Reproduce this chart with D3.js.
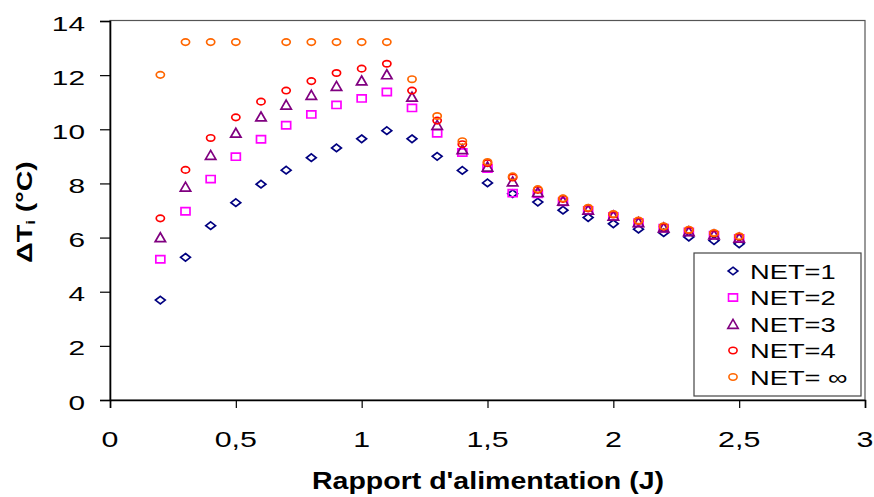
<!DOCTYPE html>
<html>
<head>
<meta charset="utf-8">
<script src="https://cdn.jsdelivr.net/npm/d3@7"></script>
<style>
  html, body { margin: 0; padding: 0; background: #fff; }
  svg { display: block; }
  text { font-family: "Liberation Sans", Arial, sans-serif; fill: #000; }
</style>
</head>
<body>
<svg id="chart" width="874" height="497"></svg>
<script>
// ---- data ----
const xValues = [0.2,0.3,0.4,0.5,0.6,0.7,0.8,0.9,1.0,1.1,1.2,1.3,1.4,1.5,1.6,1.7,1.8,1.9,2.0,2.1,2.2,2.3,2.4,2.5];
const net1 = [3.69,5.27,6.44,7.29,7.97,8.49,8.95,9.31,9.65,9.95,9.65,9.0,8.48,8.02,7.62,7.31,7.01,6.74,6.51,6.31,6.18,6.02,5.89,5.77];
const net2 = [5.20,6.97,8.16,8.99,9.63,10.15,10.55,10.90,11.14,11.38,10.79,9.85,9.14,8.55,7.64,7.62,7.32,7.0,6.78,6.55,6.35,6.21,6.09,5.97];
const net3 = [6.01,7.88,9.05,9.87,10.47,10.91,11.27,11.60,11.80,12.03,11.20,10.16,9.26,8.62,8.07,7.68,7.36,7.03,6.81,6.57,6.37,6.23,6.11,5.99];
const net4 = [6.71,8.50,9.68,10.44,11.02,11.43,11.78,12.08,12.24,12.42,11.43,10.32,9.45,8.75,8.22,7.76,7.43,7.08,6.85,6.61,6.40,6.27,6.15,6.03];
const netInf = [12.01,13.22,13.22,13.22,null,13.22,13.22,13.22,13.22,13.22,11.85,10.49,9.56,8.79,8.26,7.79,7.45,7.10,6.87,6.63,6.42,6.29,6.17,6.05];
const seriesNames = ["NET=1","NET=2","NET=3","NET=4","NET= \u221E"];
const seriesColors = ["#000080","#FF00FF","#800080","#FF0000","#FF6600"];
const seriesShapes = ["diamond","square","triangle","circle","circle"];
const xTicks = [0,0.5,1,1.5,2,2.5,3];
const xTickLabels = ["0","0,5","1","1,5","2","2,5","3"];
const yTicks = [0,2,4,6,8,10,12,14];
const xTitle = "Rapport d'alimentation (J)";

const allSeries = [net1, net2, net3, net4, netInf];

// ---- layout ----
const svg = d3.select("#chart");
const x = d3.scaleLinear().domain([0,3]).range([110,865]);
const y = d3.scaleLinear().domain([0,14]).range([400,21]);

// plot frame (top/right)
svg.append("rect").attr("x",110).attr("y",20.5).attr("width",755).attr("height",379.5)
  .attr("fill","none").attr("stroke","#555").attr("stroke-width",1.2);

// axes
const xAxis = svg.append("g").attr("transform","translate(0,400)")
  .call(d3.axisBottom(x).tickValues(xTicks).tickSize(8).tickFormat(""));
const yAxis = svg.append("g").attr("transform","translate(110,0)")
  .call(d3.axisLeft(y).tickValues(yTicks).tickSize(10).tickFormat(""));
[xAxis,yAxis].forEach(a => {
  a.select(".domain").attr("stroke","#000").attr("stroke-width",1.6);
  a.selectAll(".tick line").attr("stroke","#000").attr("stroke-width",1.2);
});

// tick labels
xTicks.forEach((t,i) => {
  svg.append("text").attr("transform",`translate(${x(t)},447) scale(1.38,1)`)
    .attr("text-anchor","middle").attr("font-size",22).text(xTickLabels[i]);
});
yTicks.forEach(t => {
  svg.append("text").attr("transform",`translate(85,${y(t)+9.5}) scale(1.42,1)`)
    .attr("text-anchor","end").attr("font-size",21).text(String(t));
});

// axis titles
svg.append("text").attr("x",488).attr("y",489)
  .attr("text-anchor","middle").attr("font-size",23).attr("font-weight","bold")
  .attr("textLength",352).attr("lengthAdjust","spacingAndGlyphs").text(xTitle);
const yt = svg.append("text").attr("transform",`translate(32,212) rotate(-90) scale(1.3,1)`)
  .attr("text-anchor","middle").attr("font-size",22).attr("font-weight","bold");
yt.append("tspan").text("\u0394T");
yt.append("tspan").attr("font-size",13).attr("dy",3).text("i");
yt.append("tspan").attr("dy",-3).text(" (\u00B0C)");

// marker shapes
function shapePath(shape) {
  switch(shape) {
    case "diamond": return "M0,-3.8L4.9,0L0,3.8L-4.9,0Z";
    case "square": return "M-4.5,-3.6H4.5V3.6H-4.5Z";
    case "triangle": return "M0,-4.6L5.2,4.4H-5.2Z";
    case "circle": return "M-4.1,0A4.1,3.2 0 1,0 4.1,0A4.1,3.2 0 1,0 -4.1,0Z";
  }
}

allSeries.forEach((vals,si) => {
  const pts = xValues.map((xv,i) => ({x:xv, v:vals[i]})).filter(d => d.v !== null);
  svg.append("g").selectAll("path").data(pts).join("path")
    .attr("transform", d => `translate(${x(d.x)},${y(d.v)})`)
    .attr("d", shapePath(seriesShapes[si]))
    .attr("fill","none").attr("stroke",seriesColors[si]).attr("stroke-width",1.7);
});

// legend
const lg = svg.append("g");
lg.append("rect").attr("x",694).attr("y",253).attr("width",167).attr("height",143)
  .attr("fill","#fff").attr("stroke","#444").attr("stroke-width",1.2);
const legendY = d3.scaleLinear().domain([0,4]).range([271,377]);
seriesNames.forEach((n,i) => {
  lg.append("path").attr("transform",`translate(733,${legendY(i)})`)
    .attr("d",shapePath(seriesShapes[i])).attr("fill","none")
    .attr("stroke",seriesColors[i]).attr("stroke-width",1.6);
  lg.append("text").attr("transform",`translate(750,${legendY(i)+7.5}) scale(1.3,1)`)
    .attr("font-size",21).text(n);
});
</script>
</body>
</html>
